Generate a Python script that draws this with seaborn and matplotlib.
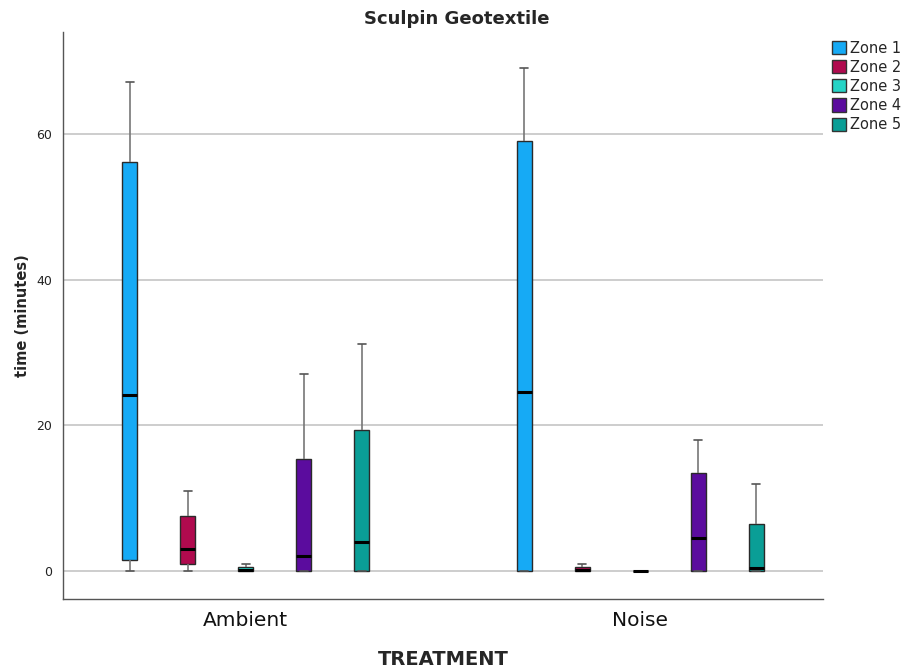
import numpy as np
import pandas as pd
import matplotlib
matplotlib.use("Agg")
import matplotlib.pyplot as plt
import seaborn as sns

# ---- data (five-number summaries) ----
zones = ["Zone 1", "Zone 2", "Zone 3", "Zone 4", "Zone 5"]
treatments = ["Ambient", "Noise"]

ambient_min = [0.0, 0.0, 0.0, 0.0, 0.0]
ambient_q1 = [1.5, 1.0, 0.0, 0.0, 0.0]
ambient_median = [24.1, 3.0, 0.1, 2.1, 4.0]
ambient_q3 = [56.1, 7.6, 0.5, 15.4, 19.4]
ambient_max = [67.2, 11.0, 0.9, 27.1, 31.1]

noise_min = [0.0, 0.0, 0.0, 0.0, 0.0]
noise_q1 = [0.0, 0.0, 0.0, 0.0, 0.0]
noise_median = [24.6, 0.1, 0.0, 4.5, 0.4]
noise_q3 = [59.0, 0.5, 0.0, 13.5, 6.5]
noise_max = [69.1, 0.9, 0.0, 18.0, 12.0]

zone_colors = ["#16AAF5", "#B00A4E", "#26D4C6", "#5B0C9E", "#0A9E96"]

summaries = {
    "Ambient": [ambient_min, ambient_q1, ambient_median, ambient_q3, ambient_max],
    "Noise": [noise_min, noise_q1, noise_median, noise_q3, noise_max],
}
rows = []
for t in treatments:
    cols = summaries[t]
    for i, z in enumerate(zones):
        for stat in cols:
            rows.append({"TREATMENT": t, "Zone": z, "time": stat[i]})
df = pd.DataFrame(rows)

# ---- figure ----
sns.set_style("white")
plt.rcParams["font.family"] = ["DejaVu Sans"]
fig = plt.figure(figsize=(9.04, 6.71), dpi=100)
ax = fig.add_axes([63 / 904, 1 - 599 / 671, 760 / 904, (599 - 32) / 671])

ax.yaxis.grid(True, color="#c9c9c9", linewidth=1.3, zorder=0)
ax.set_axisbelow(True)

sns.boxplot(
    data=df, x="TREATMENT", y="time", hue="Zone",
    order=treatments, hue_order=zones, palette=zone_colors,
    whis=(0, 100), width=0.736, gap=0.74, saturation=1,
    linecolor="#2a2a2a", linewidth=1.0,
    medianprops={"color": "black", "linewidth": 2.2},
    whiskerprops={"color": "#777777", "linewidth": 1.2},
    capprops={"color": "#555555", "linewidth": 1.2},
    ax=ax,
)

ax.set_xlim(-0.464, 1.464)
ax.set_ylim(-3.85, 74)
ax.set_yticks([0, 20, 40, 60])
ax.tick_params(axis="y", length=0, labelsize=9, pad=8, colors="#222222")
ax.tick_params(axis="x", length=0, labelsize=14.5, pad=9, colors="#111111")

for s in ["top", "right"]:
    ax.spines[s].set_visible(False)
for s in ["left", "bottom"]:
    ax.spines[s].set_color("#555555")
    ax.spines[s].set_linewidth(1.0)

ax.set_xlabel("TREATMENT", fontsize=14, fontweight="bold", labelpad=14)
ax.set_ylabel("time (minutes)", fontsize=10.5, fontweight="bold", labelpad=4)

fig.text(457 / 904, 1 - 19 / 671, "Sculpin Geotextile", ha="center", va="center",
         fontsize=13, fontweight="bold")

sns.move_legend(
    ax, "upper left", bbox_to_anchor=(1.0, 1.0), frameon=False, title=None,
    fontsize=10.5, handlelength=1.0, handleheight=1.0, handletextpad=0.25,
    labelspacing=0.28, borderaxespad=0.2,
)
leg = ax.get_legend()
for h in leg.legend_handles:
    h.set_edgecolor("#333333")
    h.set_linewidth(1.0)

fig.savefig("out.png", dpi=100, facecolor="white")
